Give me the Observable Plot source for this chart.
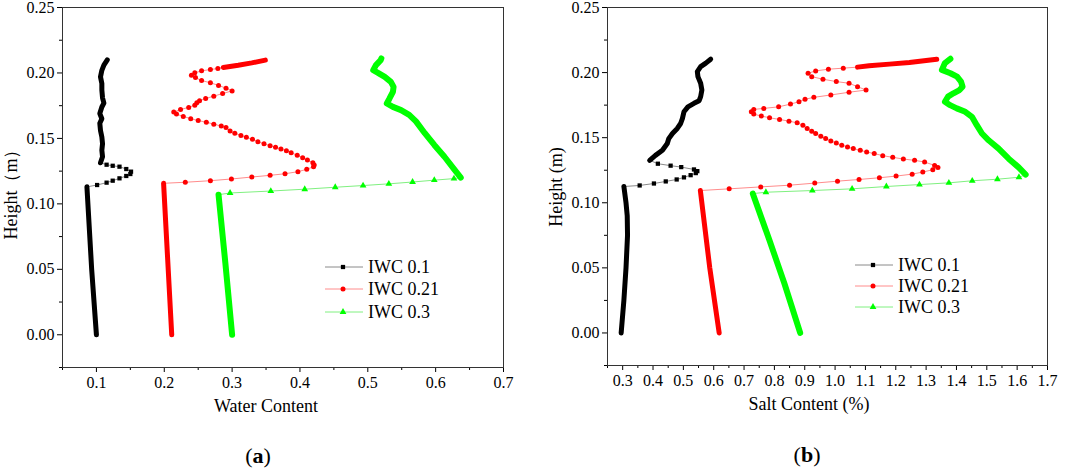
<!DOCTYPE html>
<html><head><meta charset="utf-8">
<script src="https://cdn.jsdelivr.net/npm/d3@7"></script>
<script src="https://cdn.jsdelivr.net/npm/@observablehq/plot@0.6"></script>
<style>
body{margin:0;background:#fff;}
#wrap{position:relative;width:1065px;height:471px;font-family:"Liberation Serif","Times New Roman",serif;color:#000;overflow:hidden;}
.panel{position:absolute;top:0;}
.t{position:absolute;white-space:nowrap;line-height:1;transform:translate(-50%,-50%);}
.rot{transform:translate(-50%,-50%) rotate(-90deg);}
.leg{position:absolute;white-space:nowrap;font-size:18px;line-height:1;transform:translate(0,-50%);}
</style></head><body><div id="wrap"></div>
<script>
// ---------- Data (height in m) ----------
const seriesNames = ["IWC 0.1", "IWC 0.21", "IWC 0.3"];

// Panel (a): water content
const wcLow_01 = [[0.100,0.000],[0.093,0.050],[0.086,0.113]];
const wcMid_01 = [[0.101,0.1144],[0.115,0.1162],[0.124,0.1177],[0.134,0.1195],[0.144,0.1213],[0.150,0.1228],[0.151,0.1246],[0.144,0.1266],[0.134,0.1284],[0.124,0.1291],[0.115,0.1299]];
const wcUp_01 = [[0.106,0.1314],[0.109,0.136],[0.108,0.141],[0.109,0.146],[0.108,0.151],[0.106,0.156],[0.105,0.1615],[0.108,0.165],[0.105,0.169],[0.108,0.174],[0.111,0.177],[0.109,0.181],[0.108,0.187],[0.108,0.192],[0.106,0.197],[0.108,0.202],[0.111,0.206],[0.116,0.210]];

const wcLow_021 = [[0.211,0.000],[0.199,0.1157]];
const wcMid_021 = [[0.231,0.1165],[0.268,0.1177],[0.299,0.119],[0.329,0.1205],[0.356,0.1218],[0.378,0.123],[0.397,0.1246],[0.410,0.1264],[0.420,0.1284],[0.421,0.1297],[0.419,0.1314],[0.411,0.1335],[0.404,0.1353],[0.396,0.1371],[0.387,0.1391],[0.380,0.1406],[0.372,0.1419],[0.364,0.1432],[0.356,0.1444],[0.347,0.1459],[0.338,0.1474],[0.330,0.1493],[0.321,0.1508],[0.313,0.1523],[0.304,0.1539],[0.297,0.1556],[0.291,0.1584],[0.284,0.1594],[0.273,0.1609],[0.262,0.1624],[0.250,0.1636],[0.239,0.1651],[0.228,0.1668],[0.218,0.1686],[0.214,0.1701],[0.224,0.1721],[0.236,0.1737],[0.245,0.1754],[0.248,0.1772],[0.252,0.1787],[0.261,0.1805],[0.273,0.1823],[0.286,0.1843],[0.300,0.1863],[0.291,0.1884],[0.280,0.1905],[0.268,0.1925],[0.255,0.1942],[0.246,0.1965],[0.240,0.1983],[0.245,0.2001],[0.255,0.2016],[0.268,0.2026],[0.279,0.2034]];
const wcUp_021 = [[0.287,0.2042],[0.309,0.2059],[0.329,0.2077],[0.349,0.2098]];

const wcLow_03 = [[0.300,0.000],[0.290,0.055],[0.280,0.107]];
const wcMid_03 = [[0.297,0.1083],[0.357,0.1098],[0.407,0.1112],[0.452,0.1127],[0.493,0.114],[0.531,0.1153],[0.566,0.1167],[0.598,0.1181],[0.627,0.1193]];
const wcUp_03 = [[0.637,0.120],[0.628,0.126],[0.613,0.136],[0.598,0.145],[0.584,0.154],[0.571,0.163],[0.561,0.168],[0.549,0.1716],[0.537,0.1741],[0.528,0.1767],[0.532,0.1805],[0.537,0.1856],[0.538,0.1894],[0.534,0.1932],[0.525,0.197],[0.515,0.2001],[0.508,0.2021],[0.512,0.206],[0.519,0.2098],[0.520,0.2111]];

// Panel (b): salt content (%)
const scLow_01 = [[0.295,0.000],[0.304,0.025],[0.311,0.050],[0.316,0.075],[0.315,0.090],[0.311,0.100],[0.304,0.1125]];
const scMid_01 = [[0.356,0.1133],[0.403,0.1148],[0.442,0.1164],[0.478,0.1179],[0.502,0.1195],[0.524,0.1212],[0.541,0.1228],[0.546,0.1243],[0.535,0.1256],[0.493,0.1274],[0.458,0.1285],[0.416,0.130]];
const scUp_01 = [[0.389,0.1326],[0.408,0.1364],[0.431,0.1403],[0.447,0.1455],[0.452,0.1493],[0.464,0.1532],[0.480,0.1571],[0.491,0.1609],[0.497,0.1648],[0.502,0.1699],[0.515,0.1737],[0.535,0.1764],[0.552,0.1784],[0.557,0.1815],[0.561,0.1866],[0.557,0.1918],[0.548,0.1969],[0.546,0.2008],[0.557,0.2046],[0.574,0.2073],[0.590,0.2103]];

const scLow_021 = [[0.618,0.000],[0.587,0.050],[0.556,0.1094]];
const scMid_021 = [[0.651,0.1107],[0.755,0.1122],[0.850,0.1135],[0.933,0.1151],[1.008,0.1166],[1.079,0.1179],[1.146,0.1192],[1.201,0.1205],[1.254,0.122],[1.289,0.1236],[1.322,0.1254],[1.339,0.127],[1.328,0.1287],[1.295,0.1313],[1.262,0.1326],[1.225,0.1336],[1.190,0.1349],[1.157,0.1362],[1.129,0.1378],[1.104,0.139],[1.083,0.1403],[1.060,0.1416],[1.041,0.1429],[1.022,0.1442],[1.004,0.1459],[0.986,0.1475],[0.969,0.1493],[0.953,0.1511],[0.936,0.1532],[0.923,0.155],[0.908,0.1571],[0.894,0.1596],[0.875,0.1614],[0.848,0.1627],[0.817,0.164],[0.784,0.1653],[0.757,0.1666],[0.732,0.1681],[0.724,0.1699],[0.732,0.1717],[0.765,0.1725],[0.814,0.1737],[0.853,0.1758],[0.881,0.1776],[0.901,0.1795],[0.930,0.181],[0.986,0.1828],[1.046,0.1849],[1.102,0.1866],[1.074,0.1892],[1.046,0.1918],[1.004,0.1931],[0.960,0.1949],[0.923,0.1969],[0.911,0.1995],[0.936,0.2013],[0.978,0.2026],[1.027,0.2034]];
const scUp_021 = [[1.074,0.2042],[1.112,0.2052],[1.179,0.2065],[1.245,0.2077],[1.300,0.2093],[1.335,0.2103]];

const scLow_03 = [[0.885,0.000],[0.833,0.038],[0.784,0.071],[0.729,0.107]];
const scMid_03 = [[0.772,0.1081],[0.925,0.1094],[1.056,0.1107],[1.169,0.1125],[1.278,0.114],[1.375,0.1153],[1.452,0.1169],[1.535,0.1181],[1.606,0.1196]];
const scUp_03 = [[1.628,0.1216],[1.605,0.1272],[1.572,0.1339],[1.539,0.1416],[1.506,0.148],[1.484,0.1532],[1.467,0.1596],[1.451,0.166],[1.429,0.1699],[1.401,0.1725],[1.379,0.175],[1.362,0.1776],[1.372,0.1815],[1.390,0.1841],[1.410,0.1866],[1.420,0.1892],[1.415,0.1931],[1.402,0.1969],[1.380,0.1995],[1.352,0.2021],[1.362,0.2073],[1.380,0.2106]];

// Ticks
const wcTicks = [0.1,0.2,0.3,0.4,0.5,0.6,0.7];
const wcMinor = [0.05,0.15,0.25,0.35,0.45,0.55,0.65];
const scTicks = [0.3,0.4,0.5,0.6,0.7,0.8,0.9,1.0,1.1,1.2,1.3,1.4,1.5,1.6,1.7];
const scMinor = [0.25,0.35,0.45,0.55,0.65,0.75,0.85,0.95,1.05,1.15,1.25,1.35,1.45,1.55,1.65];
const hTicks = [0.00,0.05,0.10,0.15,0.20,0.25];
const hMinor = [-0.025,0.025,0.075,0.125,0.175,0.225];

// ---------- Styles ----------
const styles = [
  {color:"#000000", light:"#8a8a8a", symbol:"square", r:2.4, w:5},
  {color:"#ff0000", light:"#ff8c8c", symbol:"circle", r:2.5, w:5},
  {color:"#00ff00", light:"#80f080", symbol:"triangle", r:2.5, w:6}
];

function panel(groups, xDomain, xTicks, xMinor, mLeft, mRight, mBottom) {
  const X = d => d[0], Y = d => d[1];
  const marks = [
    Plot.axisX(xTicks, {tickSize:5, tickPadding:4, tickFormat: d => d.toFixed(1), fontSize:16, label:null}),
    Plot.axisX(xMinor, {tickSize:3, tickFormat: () => "", label:null}),
    Plot.axisY(hTicks, {tickSize:5, tickPadding:3, tickFormat: d => d.toFixed(2), fontSize:16, label:null}),
    Plot.axisY(hMinor, {tickSize:3, tickFormat: () => "", label:null})
  ];
  groups.forEach((g, i) => {
    const s = styles[i];
    const all = g[0].concat(g[1], g[2]);
    marks.push(Plot.line(all, {x:X, y:Y, stroke:s.light, strokeWidth:1}));
    marks.push(Plot.line(g[0], {x:X, y:Y, stroke:s.color, strokeWidth:s.w, strokeLinecap:"round", strokeLinejoin:"round"}));
    marks.push(Plot.line(g[2], {x:X, y:Y, stroke:s.color, strokeWidth:s.w, strokeLinecap:"round", strokeLinejoin:"round"}));
    marks.push(Plot.dot(g[1], {x:X, y:Y, symbol:s.symbol, fill:s.color, stroke:"none", r:s.r}));
  });
  marks.push(Plot.frame({stroke:"#333", strokeWidth:1}));
  return Plot.plot({
    width:532, height:420,
    marginLeft:mLeft, marginRight:mRight, marginTop:7, marginBottom:mBottom,
    x:{domain:xDomain, label:null},
    y:{domain:[-0.025,0.25], label:null},
    style:{fontFamily:'"Liberation Serif","Times New Roman",serif', fontSize:"16px", background:"transparent", color:"#000"},
    marks
  });
}

const wrap = document.getElementById("wrap");
function place(el, left) { el.classList.add("panel"); el.style.left = left + "px"; wrap.appendChild(el); }

place(panel([[wcLow_01,wcMid_01,wcUp_01],[wcLow_021,wcMid_021,wcUp_021],[wcLow_03,wcMid_03,wcUp_03]], [0.05,0.7], wcTicks, wcMinor, 62, 29, 53), 0);
place(panel([[scLow_01,scMid_01,scUp_01],[scLow_021,scMid_021,scUp_021],[scLow_03,scMid_03,scUp_03]], [0.25,1.7], scTicks, scMinor, 74, 18, 55), 533);

function text(html, x, y, size, cls) {
  const d = document.createElement("div");
  d.className = "t" + (cls ? " " + cls : "");
  d.style.left = x + "px"; d.style.top = y + "px"; d.style.fontSize = size + "px";
  d.innerHTML = html; wrap.appendChild(d);
}
text("Height（m）", 11, 190, 18, "rot");
text("Water Content", 266, 406, 18);
text("Height (m)", 556, 187, 18, "rot");
text("Salt Content (%)", 809, 404, 18);
text("(<b>a</b>)", 258, 456, 22);
text("(<b>b</b>)", 807, 455, 22);

// Legends
function legend(x0, rows) {
  seriesNames.forEach((name, i) => {
    const s = styles[i], y = rows[i];
    const svg = d3.create("svg").attr("width", 40).attr("height", 12)
      .style("position","absolute").style("left", x0 + "px").style("top", (y - 6) + "px");
    svg.append("line").attr("x1",1).attr("x2",39).attr("y1",6).attr("y2",6).attr("stroke", s.light).attr("stroke-width",1);
    const sym = {square:d3.symbolSquare, circle:d3.symbolCircle, triangle:d3.symbolTriangle}[s.symbol];
    svg.append("path").attr("d", d3.symbol(sym, Math.PI * s.r * s.r)()).attr("transform","translate(19,6)").attr("fill", s.color);
    wrap.appendChild(svg.node());
    const t = document.createElement("div");
    t.className = "leg"; t.style.left = (x0 + 44) + "px"; t.style.top = y + "px"; t.textContent = name;
    wrap.appendChild(t);
  });
}
legend(324, [266.7, 289.3, 311.7]);
legend(854, [265, 286, 307.3]);
</script>
</body></html>
